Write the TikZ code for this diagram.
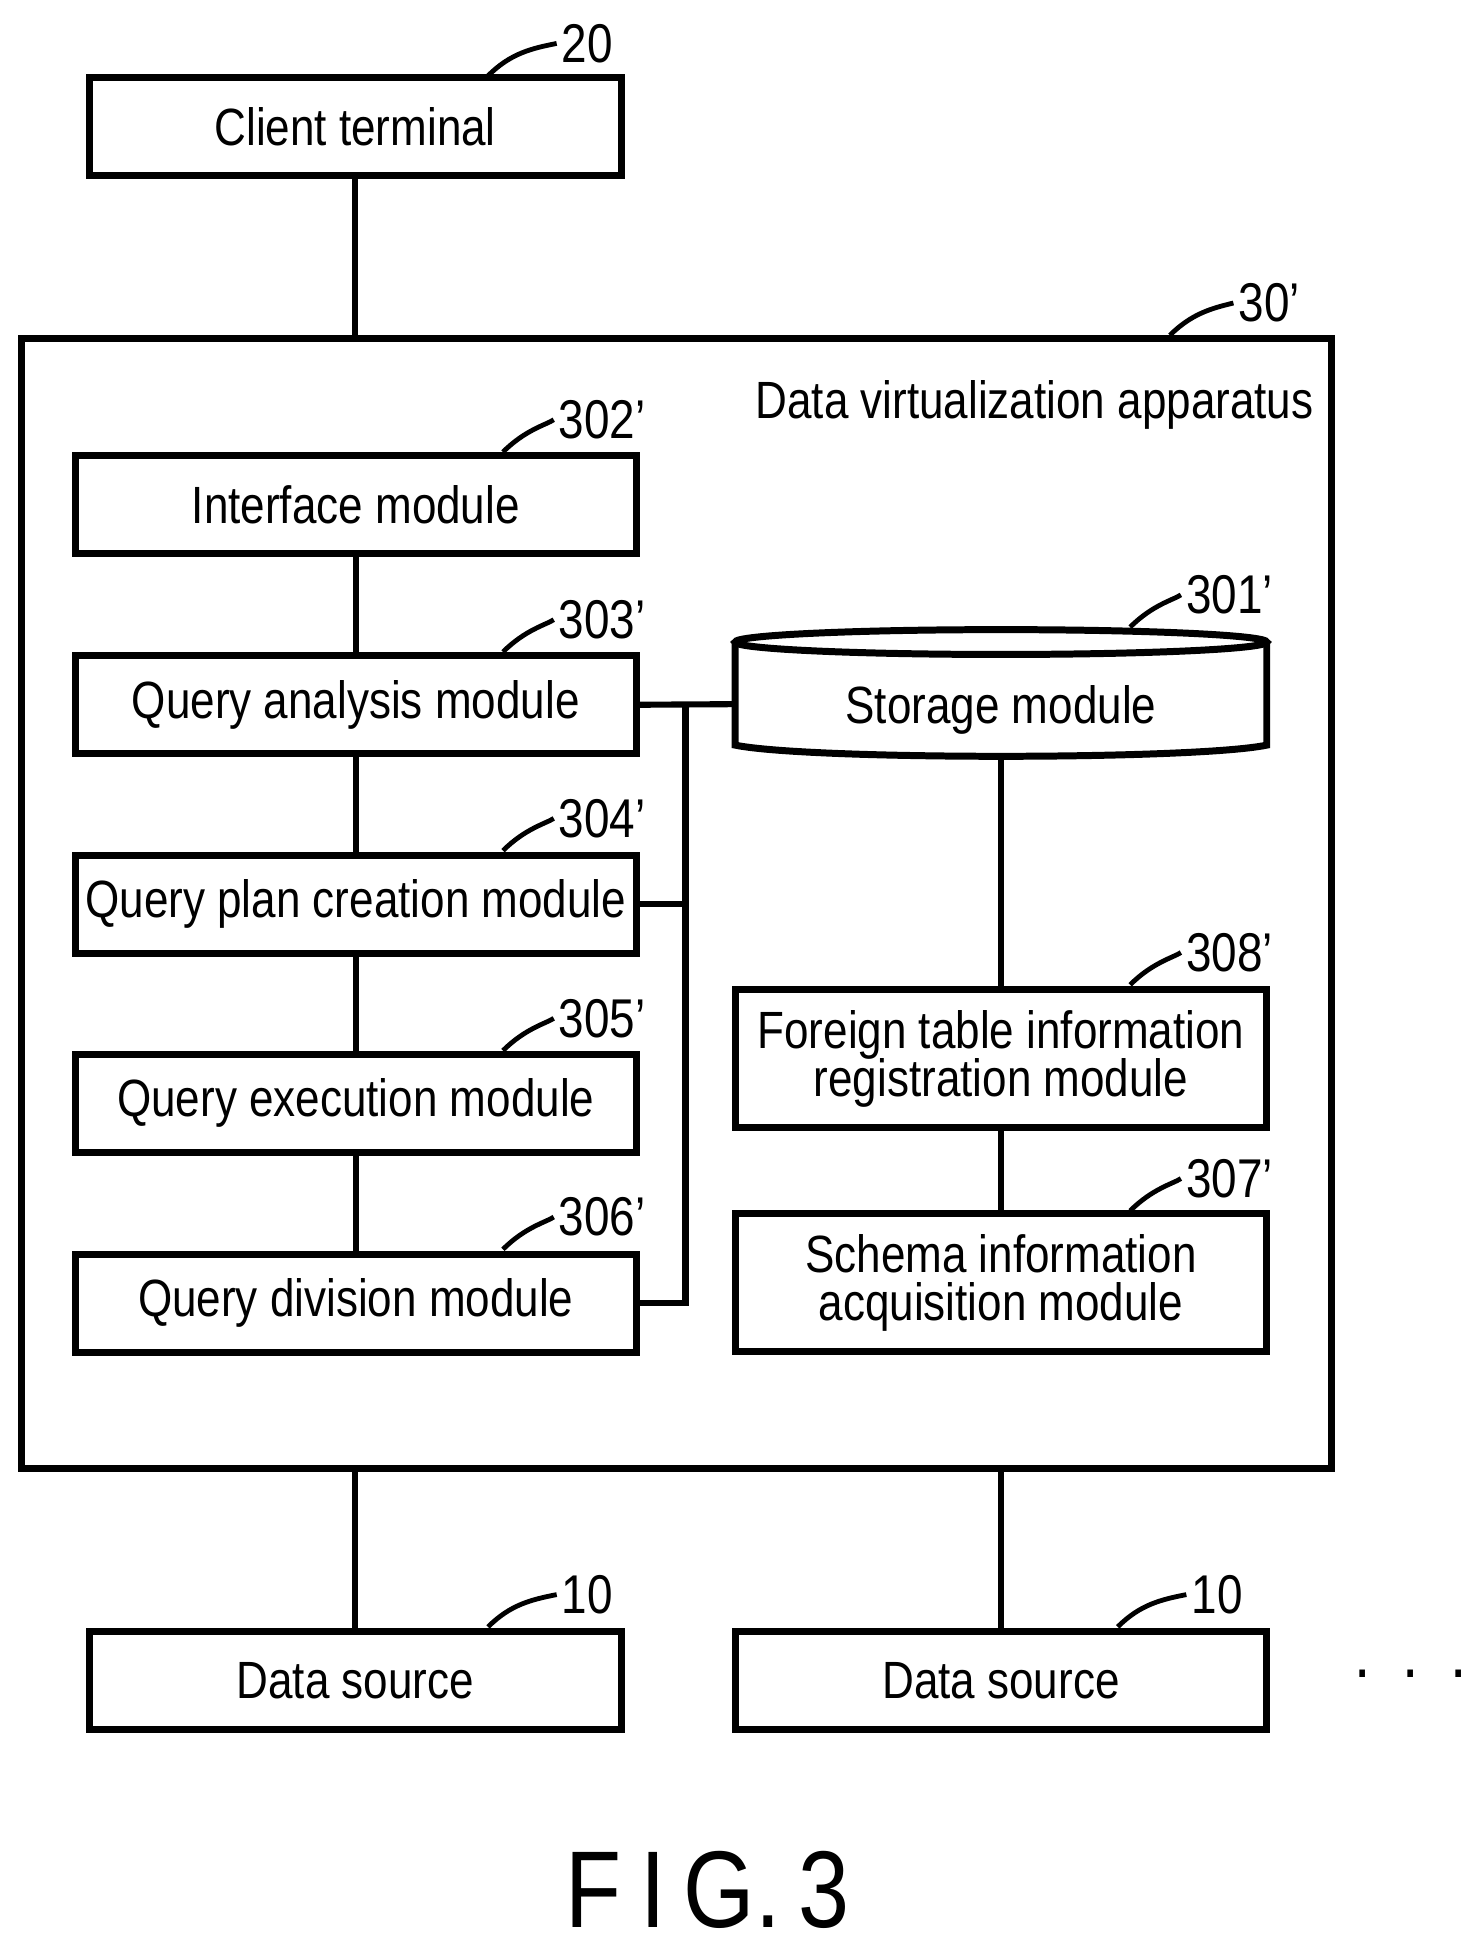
\documentclass[tikz,border=0pt]{standalone}
\usepackage{fontspec}
\setmainfont{Liberation Sans}[FakeStretch=0.84]
\usetikzlibrary{shapes.geometric}
\tikzset{
  box/.style={draw=black,line width=1.6pt,minimum width=4.28cm,minimum height=0.79cm,align=center,inner sep=0pt,font=\fontsize{12}{14}\selectfont},
  mod/.style={box,minimum width=4.51cm},
  tall/.style={box,minimum height=1.11cm},
  wire/.style={line width=1.4pt},
  tag/.style={font=\fontsize{12.5}{14}\selectfont,inner sep=1pt},
  lead/.style={line width=1.1pt}
}
\newcommand{\refnum}[4]{%
  \node[tag] (#1) at (#2,#3) {#4};
  \coordinate (#1s) at (#2-80,#3+26);
  \draw[lead] (#1s) .. controls (#2-62,#3+8) and (#2-45,#3+4) .. (#1.west);
}
\begin{document}
\begin{tikzpicture}[x=0.01cm,y=-0.01cm]
	\useasboundingbox (0,0) rectangle (1190,1571);
	
	\node[box] (client) at (286,102) {Client terminal};
	\refnum{n20}{473}{35}{20}
	
	\node[draw=black,line width=1.6pt,minimum width=10.54cm,minimum height=9.09cm] (dva) at (545,727.5) {};
	\node[tag,font=\fontsize{12}{14}\selectfont] (dvat) at (833,326) {Data virtualization apparatus};
	\refnum{n30}{1022}{244}{30’}
	
	\node[mod] (iface) at (286.5,406.5) {Interface module};
	\node[mod] (qana)  at (286.5,567.5) {Query analysis module};
	\node[mod] (qplan) at (286.5,728)   {Query plan creation module};
	\node[mod] (qexec) at (286.5,888.5) {Query execution module};
	\node[mod] (qdiv)  at (286.5,1049.5) {Query division module};
	\refnum{n302}{485}{338}{302’}
	\refnum{n303}{485}{499}{303’}
	\refnum{n304}{485}{659}{304’}
	\refnum{n305}{485}{820}{305’}
	\refnum{n306}{485}{980}{306’}
	
	% storage cylinder
	\draw[line width=1.6pt,fill=white] (592,517) -- (592,600)
	  .. controls (650,612) and (962,612) .. (1020,600) -- (1020,517);
	\draw[line width=1.6pt] (806,517) ellipse (214 and 10);
	\node[tag,font=\fontsize{12}{14}\selectfont] (store) at (806,572) {Storage module};
	\coordinate (storeW) at (592,567);
	\coordinate (storeB) at (806,608);
	\refnum{n301}{990}{479}{301’}
	
	\node[tall] (ftreg)  at (806,852.5)  {Foreign table information\\[-3pt]registration module};
	\node[tall] (schema) at (806,1033)   {Schema information\\[-3pt]acquisition module};
	\refnum{n308}{990}{767}{308’}
	\refnum{n307}{990}{949}{307’}
	
	\node[box] (ds1) at (286,1353.5) {Data source};
	\node[box] (ds2) at (806,1353.5) {Data source};
	\refnum{n10a}{473}{1284}{10}
	\refnum{n10b}{980}{1284}{10}
	\node[font=\fontsize{16}{16}\selectfont] (more) at (1136,1348) {.\hspace{0.45em}.\hspace{0.45em}.};
	
	\node[font=\fontsize{25}{25}\selectfont] (fig) at (570,1522) {F\,I\,G.\,3};
	
	% connectors
	\draw[wire] (client.south) -- (client.south |- dva.north);
	\draw[wire] (iface) -- (qana);
	\draw[wire] (qana) -- (qplan);
	\draw[wire] (qplan) -- (qexec);
	\draw[wire] (qexec) -- (qdiv);
	\coordinate (bus) at (552,567);
	\draw[wire] (qana.east) -- (storeW);
	\draw[wire] (bus) |- (qdiv.east);
	\draw[wire] (qplan.east) -- (qplan.east -| bus);
	\draw[wire] (storeB) -- (ftreg.north);
	\draw[wire] (ftreg) -- (schema);
	\draw[wire] (ds1.north |- dva.south) -- (ds1.north);
	\draw[wire] (ds2.north |- dva.south) -- (ds2.north);
\end{tikzpicture}
\end{document}
